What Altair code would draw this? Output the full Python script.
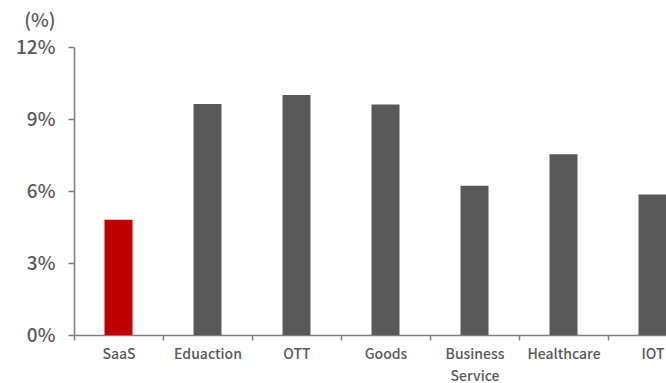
import altair as alt
import pandas as pd

categories = ["SaaS", "Eduaction", "OTT", "Goods", "Business Service", "Healthcare", "IOT"]
values = [4.8, 9.62, 10.0, 9.6, 6.22, 7.53, 5.85]
highlight = ["SaaS"]
y_ticks = [0, 3, 6, 9, 12]

df = pd.DataFrame({"cat": categories, "val": values})
df["hl"] = df["cat"].isin(highlight)

FONT = "Noto Sans CJK KR"
GREY = "#595959"
AXIS = "#7f7f7f"

chart = alt.Chart(df).mark_bar(size=28).encode(
    x=alt.X("cat:N", sort=categories,
            scale=alt.Scale(paddingInner=0, paddingOuter=0, range=[0, 623]),
            axis=alt.Axis(title=None, labelAngle=0, tickBand="extent",
                          labelFont=FONT, labelFontSize=14, labelFontWeight=500, labelColor=GREY,
                          labelPadding=7, labelLineHeight=22,
                          labelExpr="datum.label == 'Business Service' ? ['Business', 'Service'] : datum.label",
                          domainColor=AXIS, tickColor=AXIS, tickSize=5,
                          domainWidth=1.5, tickWidth=1.5, labelLimit=200)),
    y=alt.Y("val:Q", scale=alt.Scale(domain=[0, 12], nice=False),
            axis=alt.Axis(title="(%)", titleAngle=0, titleAlign="right", titleBaseline="alphabetic",
                          titleX=-19, titleY=-21, titleFont=FONT, titleFontSize=19,
                          titleFontWeight=500, titleColor=GREY,
                          values=y_ticks, labelExpr="datum.value + '%'",
                          labelFont=FONT, labelFontSize=19, labelFontWeight=500, labelColor=GREY, labelPadding=13,
                          grid=False, domainColor=AXIS, tickColor=AXIS, tickSize=6,
                          domainWidth=1.5, tickWidth=1.5)),
    color=alt.Color("hl:N", scale=alt.Scale(domain=[True, False], range=["#C00000", GREY]), legend=None),
).properties(
    width=592, height=288,
    padding={"left": 74, "top": 47, "right": 0, "bottom": 48},
    autosize=alt.AutoSizeParams(type="none"),
    background="white",
).configure_view(strokeWidth=0, stroke="transparent")

chart.save("out.html", embed_options={"renderer": "svg", "actions": False})
